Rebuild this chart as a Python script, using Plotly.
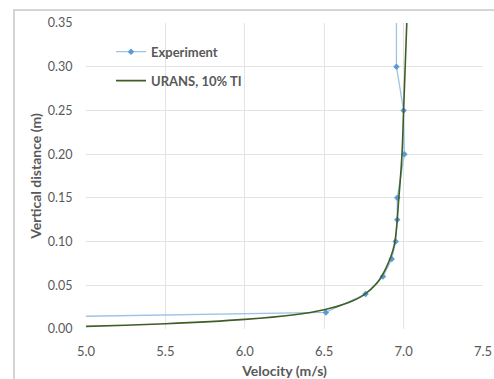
import plotly.graph_objects as go

# Experiment data
exp_velocity = [0.0, 6.51, 6.76, 6.87, 6.925, 6.95, 6.96, 6.96, 7.005, 7.0, 6.955, 6.955]
exp_height = [0.0, 0.019, 0.04, 0.06, 0.08, 0.10, 0.125, 0.15, 0.20, 0.25, 0.30, 0.40]

# URANS, 10% TI
urans_velocity = [4.5, 5.0, 5.5, 6.0, 6.3, 6.5, 6.65, 6.75, 6.83, 6.89, 6.94, 6.97, 6.99, 7.0, 7.01, 7.02, 7.03]
urans_height = [0.002, 0.003, 0.006, 0.011, 0.016, 0.022, 0.030, 0.039, 0.052, 0.070, 0.095, 0.15, 0.20, 0.25, 0.30, 0.35, 0.40]

x_ticks = [5.0, 5.5, 6.0, 6.5, 7.0, 7.5]
y_ticks = [0.0, 0.05, 0.10, 0.15, 0.20, 0.25, 0.30, 0.35]

fig = go.Figure()
fig.add_trace(go.Scatter(
    x=exp_velocity, y=exp_height, mode="lines+markers", name="Experiment",
    legendgroup="a",
    line=dict(color="#9DC3E6", width=1.3),
    marker=dict(color="#5B9BD5", size=5, symbol="diamond"),
))
fig.add_trace(go.Scatter(
    x=urans_velocity, y=urans_height, mode="lines", name="URANS, 10% TI",
    legendgroup="b",
    line=dict(color="#3F5E26", width=1.6, shape="spline"),
))

font_color = "#595959"
fig.update_layout(
    width=494, height=379,
    margin=dict(l=86, r=11, t=23, b=50),
    paper_bgcolor="white", plot_bgcolor="white",
    font=dict(family="Lato, Open Sans, sans-serif", color=font_color, size=12),
    showlegend=True,
    legend=dict(x=0.063, y=0.955, xanchor="left", yanchor="top",
                bgcolor="rgba(0,0,0,0)", font=dict(size=13, color=font_color, weight="bold"),
                traceorder="grouped", tracegroupgap=9, itemwidth=30),
    xaxis=dict(range=[5.0, 7.5], tickvals=x_ticks, ticktext=[f"{v:.1f}" for v in x_ticks],
               showgrid=True, gridcolor="#E3E3E3", zeroline=False, showline=False, automargin=False,
               title=dict(text="<b>Velocity (m/s)</b>", font=dict(size=14, color=font_color), standoff=12),
               tickfont=dict(size=13, color=font_color), ticks="outside", ticklen=10, tickcolor="rgba(0,0,0,0)"),
    yaxis=dict(range=[0.0, 0.35], tickvals=y_ticks, ticktext=[f"{v:.2f}" for v in y_ticks],
               showgrid=True, gridcolor="#E3E3E3", zeroline=False, showline=False, automargin=False,
               title=dict(text="<b>Vertical distance (m)</b>", font=dict(size=14, color=font_color), standoff=2),
               tickfont=dict(size=12.5, color=font_color), ticks="outside", ticklen=10, tickcolor="rgba(0,0,0,0)"),
    shapes=[dict(type="rect", xref="paper", yref="paper",
                 x0=-72/397, x1=409/397, y0=-60/306, y1=(329-10)/306,
                 line=dict(color="#C8C8C8", width=1.5), fillcolor="rgba(0,0,0,0)", layer="above")],
)

fig.write_html("out.html", config={"displayModeBar": False},
               post_script="document.body.style.margin='0';")
